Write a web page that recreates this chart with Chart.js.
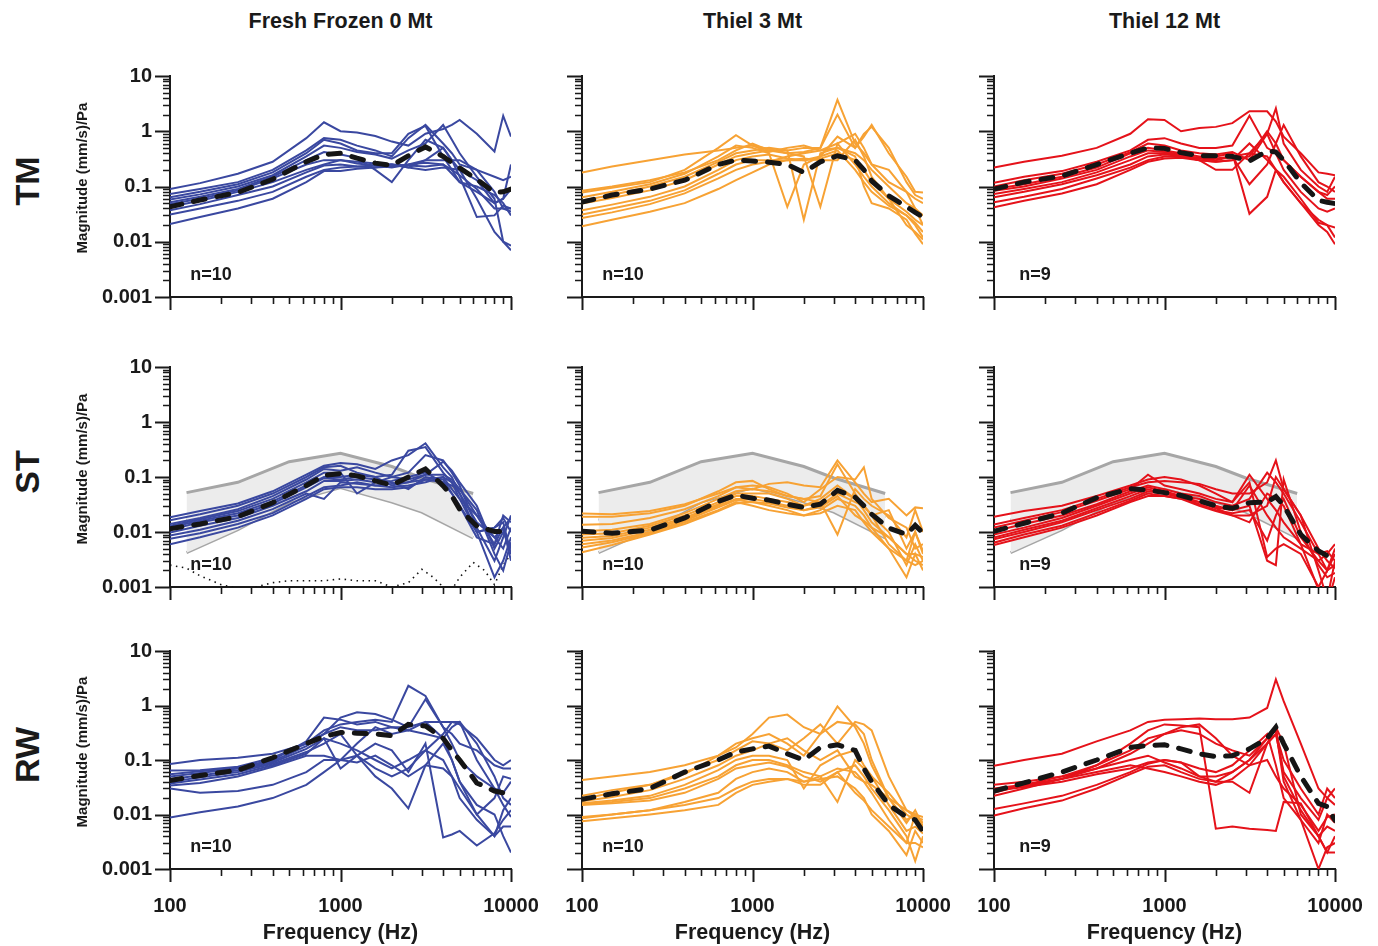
<!DOCTYPE html>
<html>
<head>
<meta charset="utf-8">
<script src="https://cdn.jsdelivr.net/npm/chart.js@4.4.0/dist/chart.umd.min.js"></script>
<style>
  html, body { margin: 0; padding: 0; background: #fff; }
  body { width: 1378px; height: 946px; position: relative; overflow: hidden;
         font-family: "Liberation Sans", Arial, sans-serif; font-weight: bold; color: #1a1a1a; }
  canvas { position: absolute; }
  .lbl { position: absolute; white-space: nowrap; line-height: 1; transform: translate(-50%, -50%); }
  .rot { transform: translate(-50%, -50%) rotate(-90deg); }
</style>
</head>
<body>
<script>
// frequency grid shared by every specimen trace (Hz)
const FREQ = [100, 150, 250, 400, 630, 800, 1000, 1250, 1600, 2000, 2500, 3150, 4000, 4500, 5000, 6300, 8000, 9000, 10000];

// ASTM normal range (ST row)
const ASTM_FREQ  = [125, 250, 500, 1000, 2000, 3000, 6000];
const ASTM_UPPER = [0.052, 0.08, 0.19, 0.27, 0.155, 0.096, 0.05];
const ASTM_MID   = [0.0164, 0.032, 0.08, 0.135, 0.069, 0.043, 0.018];
const ASTM_LOWER = [0.0042, 0.011, 0.035, 0.064, 0.035, 0.023, 0.0078];

// noise floor (ST, fresh frozen)
const NOISE_FREQ  = [100, 125, 150, 200, 250, 300, 400, 500, 630, 800, 1000, 1250, 1600, 2000, 2500, 3000, 3500, 4000, 4500, 5000, 6000, 7000, 8000, 9000, 10000];
const NOISE_FLOOR = [0.0025, 0.0022, 0.0016, 0.0011, 0.00095, 0.00095, 0.0012, 0.0013, 0.0013, 0.0013, 0.0014, 0.0013, 0.0013, 0.001, 0.0012, 0.0021, 0.0015, 0.001, 0.0009, 0.0015, 0.0028, 0.002, 0.0011, 0.0025, 0.004];

// ---- TM ----
const TM_FF_MEAN = [0.043, 0.057, 0.078, 0.135, 0.28, 0.38, 0.40, 0.325, 0.265, 0.24, 0.36, 0.52, 0.35, 0.27, 0.216, 0.135, 0.078, 0.08, 0.09];
const TM_FF = [
  [0.09, 0.115, 0.17, 0.28, 0.75, 1.45, 1.0, 0.95, 0.82, 0.65, 0.55, 0.9, 1.1, 1.3, 1.6, 0.9, 0.43, 1.9, 0.8],
  [0.073, 0.09, 0.12, 0.2, 0.45, 0.75, 0.7, 0.55, 0.45, 0.35, 0.75, 1.3, 0.6, 0.4, 0.25, 0.2, 0.08, 0.04, 0.04],
  [0.064, 0.08, 0.11, 0.18, 0.4, 0.7, 0.6, 0.45, 0.4, 0.4, 0.9, 1.25, 0.35, 0.2, 0.12, 0.1, 0.07, 0.05, 0.03],
  [0.058, 0.072, 0.1, 0.16, 0.35, 0.55, 0.5, 0.42, 0.38, 0.32, 0.45, 0.6, 1.3, 0.7, 0.4, 0.15, 0.06, 0.01, 0.007],
  [0.052, 0.065, 0.09, 0.15, 0.3, 0.42, 0.38, 0.33, 0.2, 0.12, 0.3, 0.7, 0.5, 0.3, 0.2, 0.06, 0.015, 0.01, 0.0085],
  [0.048, 0.06, 0.085, 0.14, 0.25, 0.3, 0.3, 0.28, 0.26, 0.25, 0.22, 0.3, 0.5, 0.3, 0.15, 0.028, 0.03, 0.045, 0.04],
  [0.043, 0.055, 0.08, 0.12, 0.2, 0.25, 0.3, 0.26, 0.24, 0.22, 0.25, 0.3, 0.3, 0.3, 0.3, 0.2, 0.15, 0.13, 0.15],
  [0.037, 0.048, 0.07, 0.1, 0.18, 0.24, 0.25, 0.23, 0.22, 0.23, 0.25, 0.27, 0.25, 0.17, 0.12, 0.08, 0.05, 0.06, 0.09],
  [0.031, 0.04, 0.055, 0.08, 0.15, 0.2, 0.22, 0.23, 0.24, 0.25, 0.22, 0.2, 0.22, 0.21, 0.2, 0.13, 0.05, 0.06, 0.25],
  [0.021, 0.028, 0.04, 0.06, 0.12, 0.19, 0.19, 0.21, 0.22, 0.25, 0.24, 0.23, 0.25, 0.2, 0.16, 0.09, 0.04, 0.04, 0.035]
];
const TM_T3_MEAN = [0.052, 0.07, 0.09, 0.13, 0.25, 0.3, 0.29, 0.275, 0.25, 0.18, 0.28, 0.36, 0.30, 0.2, 0.126, 0.068, 0.043, 0.034, 0.028];
const TM_T3 = [
  [0.18, 0.23, 0.3, 0.38, 0.45, 0.5, 0.55, 0.48, 0.4, 0.42, 0.5, 3.7, 0.6, 0.4, 0.25, 0.12, 0.08, 0.06, 0.05],
  [0.084, 0.1, 0.13, 0.18, 0.3, 0.45, 0.6, 0.45, 0.45, 0.5, 0.5, 2.0, 0.5, 0.8, 1.3, 0.4, 0.15, 0.08, 0.078],
  [0.078, 0.095, 0.12, 0.2, 0.5, 0.85, 0.55, 0.42, 0.5, 0.55, 0.45, 0.6, 0.9, 0.5, 0.25, 0.2, 0.08, 0.04, 0.03],
  [0.064, 0.08, 0.11, 0.17, 0.35, 0.55, 0.5, 0.4, 0.043, 0.25, 0.35, 0.8, 0.5, 0.9, 1.2, 0.5, 0.12, 0.07, 0.06],
  [0.056, 0.07, 0.1, 0.15, 0.28, 0.4, 0.45, 0.5, 0.45, 0.025, 0.4, 0.5, 0.4, 0.3, 0.2, 0.1, 0.05, 0.04, 0.02],
  [0.049, 0.062, 0.085, 0.13, 0.25, 0.35, 0.4, 0.45, 0.4, 0.35, 0.043, 0.6, 0.25, 0.15, 0.1, 0.05, 0.03, 0.02, 0.012],
  [0.037, 0.047, 0.065, 0.1, 0.2, 0.3, 0.35, 0.38, 0.32, 0.3, 0.35, 0.45, 0.2, 0.12, 0.08, 0.045, 0.03, 0.022, 0.015],
  [0.031, 0.04, 0.055, 0.085, 0.17, 0.25, 0.3, 0.3, 0.3, 0.32, 0.3, 0.3, 0.7, 0.35, 0.15, 0.06, 0.035, 0.025, 0.02],
  [0.027, 0.034, 0.048, 0.075, 0.14, 0.2, 0.25, 0.28, 0.35, 0.4, 0.45, 0.5, 0.35, 0.1, 0.05, 0.04, 0.025, 0.014, 0.009],
  [0.019, 0.025, 0.035, 0.05, 0.09, 0.13, 0.18, 0.25, 0.3, 0.3, 0.32, 0.4, 0.3, 0.2, 0.12, 0.06, 0.02, 0.015, 0.011]
];
const TM_T12_MEAN = [0.09, 0.12, 0.155, 0.25, 0.4, 0.5, 0.49, 0.41, 0.36, 0.36, 0.35, 0.29, 0.44, 0.42, 0.3, 0.117, 0.056, 0.052, 0.049];
const TM_T12 = [
  [0.22, 0.28, 0.36, 0.5, 0.9, 1.65, 1.6, 1.0, 1.15, 1.2, 1.4, 2.3, 2.3, 1.5, 0.8, 0.4, 0.18, 0.17, 0.16],
  [0.117, 0.15, 0.19, 0.28, 0.45, 0.7, 0.75, 0.6, 0.5, 0.5, 0.55, 1.9, 0.5, 0.4, 0.3, 0.15, 0.08, 0.07, 0.1],
  [0.1, 0.13, 0.17, 0.25, 0.42, 0.6, 0.55, 0.45, 0.4, 0.38, 0.42, 0.3, 0.9, 2.6, 0.6, 0.2, 0.1, 0.08, 0.15],
  [0.09, 0.11, 0.15, 0.22, 0.4, 0.5, 0.45, 0.4, 0.35, 0.35, 0.4, 0.032, 0.065, 0.2, 0.15, 0.06, 0.022, 0.02, 0.012],
  [0.084, 0.1, 0.14, 0.2, 0.35, 0.45, 0.42, 0.38, 0.32, 0.3, 0.35, 0.11, 0.25, 0.6, 1.3, 0.35, 0.12, 0.1, 0.08],
  [0.073, 0.09, 0.12, 0.18, 0.3, 0.4, 0.4, 0.36, 0.3, 0.28, 0.3, 0.6, 0.3, 0.2, 0.12, 0.05, 0.025, 0.02, 0.018],
  [0.064, 0.08, 0.11, 0.16, 0.25, 0.35, 0.38, 0.36, 0.3, 0.2, 0.2, 0.4, 0.9, 0.4, 0.2, 0.08, 0.04, 0.035, 0.04],
  [0.052, 0.065, 0.09, 0.14, 0.22, 0.3, 0.35, 0.35, 0.33, 0.32, 0.35, 0.4, 0.35, 0.2, 0.12, 0.05, 0.02, 0.015, 0.009],
  [0.042, 0.055, 0.075, 0.11, 0.2, 0.28, 0.32, 0.33, 0.3, 0.28, 0.3, 0.35, 1.0, 0.6, 0.3, 0.15, 0.08, 0.06, 0.06]
];

// ---- ST ----
const ST_FF_MEAN = [0.0115, 0.014, 0.019, 0.034, 0.07, 0.107, 0.115, 0.105, 0.085, 0.071, 0.1, 0.14, 0.069, 0.045, 0.026, 0.0128, 0.0102, 0.0102, 0.0105];
const ST_FF = [
  [0.0185, 0.024, 0.033, 0.055, 0.11, 0.16, 0.18, 0.17, 0.14, 0.2, 0.25, 0.41, 0.15, 0.1, 0.05, 0.015, 0.008, 0.012, 0.018],
  [0.0163, 0.021, 0.03, 0.05, 0.1, 0.15, 0.16, 0.12, 0.1, 0.11, 0.3, 0.35, 0.12, 0.08, 0.04, 0.02, 0.006, 0.02, 0.015],
  [0.014, 0.018, 0.026, 0.045, 0.09, 0.14, 0.13, 0.15, 0.12, 0.1, 0.12, 0.25, 0.2, 0.12, 0.07, 0.012, 0.003, 0.008, 0.02],
  [0.013, 0.017, 0.024, 0.04, 0.08, 0.12, 0.12, 0.05, 0.08, 0.1, 0.09, 0.11, 0.19, 0.13, 0.08, 0.03, 0.005, 0.01, 0.005],
  [0.0122, 0.016, 0.022, 0.036, 0.07, 0.1, 0.1, 0.11, 0.1, 0.07, 0.08, 0.09, 0.1, 0.06, 0.04, 0.01, 0.0015, 0.003, 0.008],
  [0.011, 0.015, 0.02, 0.033, 0.065, 0.095, 0.09, 0.1, 0.09, 0.08, 0.06, 0.1, 0.09, 0.05, 0.03, 0.008, 0.006, 0.012, 0.003],
  [0.0098, 0.013, 0.018, 0.03, 0.055, 0.085, 0.085, 0.09, 0.08, 0.085, 0.1, 0.12, 0.08, 0.07, 0.06, 0.02, 0.008, 0.005, 0.012],
  [0.0086, 0.011, 0.016, 0.026, 0.05, 0.04, 0.08, 0.075, 0.07, 0.075, 0.08, 0.11, 0.11, 0.09, 0.06, 0.025, 0.004, 0.002, 0.0065],
  [0.0075, 0.0095, 0.014, 0.022, 0.045, 0.065, 0.07, 0.08, 0.07, 0.065, 0.07, 0.08, 0.1, 0.08, 0.05, 0.01, 0.012, 0.018, 0.01],
  [0.006, 0.008, 0.012, 0.02, 0.04, 0.06, 0.065, 0.065, 0.06, 0.06, 0.065, 0.09, 0.08, 0.05, 0.03, 0.01, 0.012, 0.015, 0.004]
];
const ST_T3_MEAN = [0.0103, 0.0095, 0.0108, 0.018, 0.036, 0.047, 0.041, 0.038, 0.032, 0.028, 0.032, 0.057, 0.043, 0.03, 0.021, 0.0118, 0.009, 0.0132, 0.0096];
const ST_T3 = [
  [0.0216, 0.021, 0.024, 0.032, 0.05, 0.065, 0.06, 0.075, 0.08, 0.07, 0.065, 0.2, 0.08, 0.05, 0.035, 0.04, 0.02, 0.028, 0.027],
  [0.019, 0.019, 0.022, 0.03, 0.055, 0.08, 0.085, 0.06, 0.045, 0.04, 0.045, 0.17, 0.05, 0.03, 0.02, 0.025, 0.005, 0.01, 0.004],
  [0.0136, 0.014, 0.018, 0.026, 0.045, 0.065, 0.07, 0.065, 0.05, 0.035, 0.06, 0.1, 0.09, 0.15, 0.04, 0.018, 0.012, 0.005, 0.006],
  [0.0103, 0.011, 0.014, 0.022, 0.04, 0.055, 0.06, 0.055, 0.045, 0.04, 0.035, 0.009, 0.06, 0.04, 0.03, 0.02, 0.008, 0.025, 0.01],
  [0.009, 0.0095, 0.013, 0.02, 0.035, 0.05, 0.05, 0.05, 0.04, 0.03, 0.04, 0.07, 0.04, 0.03, 0.02, 0.01, 0.0025, 0.006, 0.003],
  [0.0079, 0.0085, 0.012, 0.018, 0.032, 0.045, 0.045, 0.04, 0.035, 0.03, 0.035, 0.06, 0.04, 0.025, 0.015, 0.008, 0.004, 0.004, 0.0035],
  [0.0069, 0.0078, 0.011, 0.017, 0.03, 0.04, 0.04, 0.035, 0.03, 0.025, 0.03, 0.05, 0.035, 0.03, 0.02, 0.006, 0.003, 0.01, 0.0045],
  [0.006, 0.007, 0.01, 0.016, 0.028, 0.038, 0.035, 0.03, 0.025, 0.02, 0.025, 0.04, 0.03, 0.02, 0.012, 0.005, 0.0015, 0.004, 0.002],
  [0.0052, 0.0065, 0.0095, 0.015, 0.025, 0.035, 0.03, 0.025, 0.022, 0.02, 0.022, 0.03, 0.025, 0.015, 0.01, 0.005, 0.003, 0.0025, 0.003],
  [0.0043, 0.0058, 0.009, 0.014, 0.024, 0.033, 0.035, 0.033, 0.028, 0.025, 0.028, 0.045, 0.02, 0.016, 0.012, 0.008, 0.004, 0.003, 0.0025]
];
const ST_T12_MEAN = [0.0103, 0.0144, 0.022, 0.042, 0.061, 0.058, 0.052, 0.046, 0.037, 0.03, 0.027, 0.034, 0.035, 0.044, 0.03, 0.009, 0.0045, 0.0037, 0.0032];
const ST_T12 = [
  [0.019, 0.024, 0.03, 0.045, 0.07, 0.09, 0.1, 0.09, 0.07, 0.05, 0.035, 0.11, 0.04, 0.025, 0.015, 0.006, 0.004, 0.0045, 0.003],
  [0.0137, 0.018, 0.025, 0.04, 0.065, 0.08, 0.085, 0.08, 0.075, 0.06, 0.05, 0.05, 0.08, 0.2, 0.06, 0.02, 0.002, 0.0006, 0.003],
  [0.012, 0.016, 0.023, 0.037, 0.06, 0.11, 0.07, 0.06, 0.05, 0.04, 0.035, 0.08, 0.0035, 0.005, 0.006, 0.004, 0.001, 0.002, 0.0025],
  [0.0103, 0.014, 0.02, 0.032, 0.055, 0.07, 0.06, 0.05, 0.045, 0.035, 0.03, 0.04, 0.12, 0.08, 0.05, 0.015, 0.004, 0.002, 0.005],
  [0.009, 0.012, 0.018, 0.03, 0.05, 0.065, 0.055, 0.045, 0.04, 0.03, 0.025, 0.03, 0.003, 0.0025, 0.09, 0.01, 0.0025, 0.0015, 0.0018],
  [0.0079, 0.011, 0.016, 0.027, 0.045, 0.06, 0.05, 0.045, 0.035, 0.027, 0.02, 0.015, 0.05, 0.04, 0.03, 0.006, 0.0009, 0.0005, 0.0015],
  [0.0074, 0.01, 0.015, 0.025, 0.04, 0.055, 0.05, 0.042, 0.032, 0.025, 0.022, 0.025, 0.007, 0.02, 0.04, 0.008, 0.003, 0.004, 0.006],
  [0.0064, 0.009, 0.013, 0.022, 0.037, 0.05, 0.045, 0.04, 0.03, 0.024, 0.02, 0.02, 0.03, 0.1, 0.06, 0.02, 0.005, 0.003, 0.0022],
  [0.0058, 0.008, 0.012, 0.02, 0.035, 0.045, 0.045, 0.04, 0.035, 0.028, 0.025, 0.07, 0.02, 0.012, 0.008, 0.005, 0.003, 0.002, 0.004]
];

// ---- RW ----
const RW_FF_MEAN = [0.042, 0.052, 0.065, 0.11, 0.2, 0.27, 0.32, 0.31, 0.3, 0.28, 0.45, 0.42, 0.25, 0.15, 0.1, 0.038, 0.027, 0.025, 0.025];
const RW_FF = [
  [0.084, 0.1, 0.11, 0.13, 0.2, 0.3, 0.6, 0.75, 0.7, 0.55, 0.4, 0.5, 0.5, 0.5, 0.45, 0.25, 0.1, 0.08, 0.1],
  [0.064, 0.065, 0.075, 0.11, 0.2, 0.35, 0.45, 0.5, 0.55, 0.5, 2.3, 1.5, 0.4, 0.3, 0.2, 0.15, 0.08, 0.07, 0.07],
  [0.055, 0.062, 0.072, 0.1, 0.22, 0.6, 0.55, 0.45, 0.5, 0.4, 0.4, 1.3, 0.4, 0.2, 0.1, 0.05, 0.03, 0.025, 0.04],
  [0.05, 0.058, 0.07, 0.095, 0.18, 0.3, 0.4, 0.35, 0.35, 0.4, 0.35, 0.5, 0.25, 0.4, 0.5, 0.2, 0.05, 0.02, 0.015],
  [0.045, 0.052, 0.065, 0.09, 0.16, 0.25, 0.07, 0.12, 0.2, 0.15, 0.06, 0.2, 0.0038, 0.0043, 0.005, 0.0027, 0.0045, 0.008, 0.012],
  [0.04, 0.048, 0.06, 0.085, 0.14, 0.2, 0.3, 0.12, 0.05, 0.03, 0.013, 0.08, 0.2, 0.1, 0.04, 0.01, 0.004, 0.012, 0.02],
  [0.037, 0.044, 0.055, 0.08, 0.13, 0.25, 0.2, 0.15, 0.1, 0.07, 0.1, 0.15, 0.1, 0.05, 0.02, 0.008, 0.004, 0.006, 0.006],
  [0.034, 0.038, 0.05, 0.075, 0.12, 0.12, 0.1, 0.12, 0.07, 0.05, 0.07, 0.15, 0.3, 0.5, 0.5, 0.1, 0.03, 0.015, 0.009],
  [0.03, 0.025, 0.027, 0.035, 0.06, 0.1, 0.1, 0.09, 0.12, 0.08, 0.05, 0.08, 0.07, 0.05, 0.03, 0.01, 0.02, 0.05, 0.045],
  [0.0088, 0.011, 0.014, 0.02, 0.035, 0.06, 0.1, 0.2, 0.4, 0.3, 0.35, 0.3, 0.25, 0.1, 0.04, 0.015, 0.01, 0.004, 0.002]
];
const RW_T3_MEAN = [0.019, 0.024, 0.03, 0.06, 0.1, 0.14, 0.16, 0.18, 0.13, 0.1, 0.17, 0.19, 0.15, 0.07, 0.04, 0.015, 0.009, 0.008, 0.0049];
const RW_T3 = [
  [0.043, 0.05, 0.06, 0.08, 0.12, 0.17, 0.3, 0.6, 0.68, 0.4, 0.3, 0.96, 0.4, 0.2, 0.08, 0.02, 0.012, 0.009, 0.008],
  [0.022, 0.028, 0.035, 0.055, 0.12, 0.2, 0.25, 0.3, 0.2, 0.12, 0.3, 0.5, 0.45, 0.3, 0.1, 0.02, 0.008, 0.01, 0.009],
  [0.019, 0.025, 0.035, 0.06, 0.1, 0.15, 0.22, 0.2, 0.15, 0.25, 0.45, 0.2, 0.5, 0.45, 0.35, 0.05, 0.012, 0.01, 0.007],
  [0.0175, 0.021, 0.028, 0.045, 0.08, 0.12, 0.15, 0.2, 0.25, 0.15, 0.1, 0.15, 0.05, 0.04, 0.035, 0.02, 0.007, 0.012, 0.006],
  [0.016, 0.018, 0.022, 0.035, 0.065, 0.1, 0.12, 0.12, 0.1, 0.03, 0.08, 0.12, 0.15, 0.08, 0.05, 0.025, 0.01, 0.008, 0.0055],
  [0.0155, 0.017, 0.02, 0.03, 0.05, 0.08, 0.1, 0.1, 0.08, 0.06, 0.05, 0.017, 0.1, 0.07, 0.05, 0.015, 0.005, 0.006, 0.0045],
  [0.015, 0.016, 0.018, 0.025, 0.045, 0.07, 0.08, 0.09, 0.075, 0.05, 0.04, 0.06, 0.08, 0.05, 0.03, 0.012, 0.004, 0.0014, 0.004],
  [0.009, 0.01, 0.012, 0.017, 0.025, 0.045, 0.06, 0.07, 0.06, 0.04, 0.05, 0.07, 0.06, 0.04, 0.025, 0.008, 0.003, 0.003, 0.0025],
  [0.0085, 0.01, 0.012, 0.015, 0.02, 0.03, 0.04, 0.045, 0.045, 0.035, 0.035, 0.06, 0.025, 0.018, 0.012, 0.006, 0.003, 0.01, 0.006],
  [0.0075, 0.0085, 0.01, 0.012, 0.015, 0.025, 0.035, 0.04, 0.045, 0.04, 0.045, 0.05, 0.03, 0.02, 0.01, 0.005, 0.0018, 0.005, 0.003]
];
const RW_T12_MEAN = [0.027, 0.038, 0.06, 0.1, 0.17, 0.185, 0.19, 0.16, 0.13, 0.115, 0.12, 0.16, 0.25, 0.4, 0.2, 0.05, 0.016, 0.014, 0.0078];
const RW_T12 = [
  [0.078, 0.1, 0.13, 0.22, 0.35, 0.5, 0.55, 0.56, 0.58, 0.56, 0.56, 0.6, 0.9, 3.0, 1.2, 0.2, 0.03, 0.02, 0.015],
  [0.025, 0.035, 0.05, 0.08, 0.15, 0.25, 0.3, 0.35, 0.3, 0.2, 0.15, 0.12, 0.25, 0.35, 0.04, 0.008, 0.003, 0.01, 0.007],
  [0.028, 0.033, 0.045, 0.07, 0.13, 0.2, 0.3, 0.4, 0.45, 0.25, 0.12, 0.08, 0.2, 0.4, 0.2, 0.01, 0.004, 0.002, 0.004],
  [0.022, 0.03, 0.045, 0.08, 0.2, 0.35, 0.45, 0.43, 0.4, 0.0055, 0.006, 0.0055, 0.0052, 0.005, 0.017, 0.016, 0.004, 0.002, 0.002],
  [0.0126, 0.016, 0.022, 0.035, 0.06, 0.085, 0.1, 0.09, 0.07, 0.06, 0.08, 0.15, 0.3, 0.08, 0.02, 0.008, 0.001, 0.0025, 0.003],
  [0.0096, 0.013, 0.018, 0.03, 0.055, 0.075, 0.08, 0.06, 0.045, 0.04, 0.06, 0.1, 0.25, 0.4, 0.05, 0.012, 0.004, 0.006, 0.005],
  [0.035, 0.04, 0.05, 0.07, 0.1, 0.12, 0.09, 0.07, 0.05, 0.05, 0.06, 0.1, 0.2, 0.3, 0.1, 0.03, 0.01, 0.03, 0.02],
  [0.03, 0.035, 0.045, 0.06, 0.08, 0.07, 0.06, 0.05, 0.04, 0.035, 0.045, 0.08, 0.1, 0.05, 0.03, 0.015, 0.005, 0.009, 0.01],
  [0.027, 0.032, 0.04, 0.055, 0.07, 0.09, 0.1, 0.09, 0.05, 0.04, 0.04, 0.025, 0.2, 0.3, 0.06, 0.02, 0.008, 0.02, 0.03]
];

const COL_TITLES = ['Fresh Frozen 0 Mt', 'Thiel 3 Mt', 'Thiel 12 Mt'];
const ROW_TITLES = ['TM', 'ST', 'RW'];
const COL_COLORS = ['#3a48a0', '#f7a234', '#e5121a'];
const N_LABELS = ['n=10', 'n=10', 'n=9'];
const X_TICKS = [100, 1000, 10000];
const Y_TICKS = [0.001, 0.01, 0.1, 1, 10];

// layout (page pixels of each plot area)
const COL_X = [170, 582, 994];
const PLOT_W = 341;
const ROW_Y = [69, 360, 644];
const ROW_H = [228, 227, 225];
const Y_AXIS_W = 100, X_AXIS_H = 50, PAD = 8, PAD_R = 40;

const FONT = '"Liberation Sans", Arial, sans-serif';

function label(text, x, y, size, rotate) {
  const d = document.createElement('div');
  d.className = 'lbl' + (rotate ? ' rot' : '');
  d.textContent = text;
  d.style.left = x + 'px';
  d.style.top = y + 'px';
  d.style.fontSize = size + 'px';
  document.body.appendChild(d);
}

function xy(freqs, vals) {
  return freqs.map(function(f, i) { return { x: f, y: vals[i] }; });
}

// tick marks (major long, minor short) drawn from the library's scales
const logTicks = {
  id: 'logTicks',
  afterDraw: function(chart) {
    const ctx = chart.ctx, a = chart.chartArea;
    const xs = chart.scales.x, ys = chart.scales.y;
    ctx.save();
    ctx.strokeStyle = '#1a1a1a';
    ctx.lineCap = 'butt';
    [true, false].forEach(function(major) {
      ctx.beginPath();
      ctx.lineWidth = major ? 2 : 1.6;
      for (let e = 2; e <= 4; e++) {
        for (let m = 1; m <= 9; m++) {
          if ((m === 1) !== major) continue;
          const v = m * Math.pow(10, e);
          if (v > 10000.5) break;
          const px = Math.round(xs.getPixelForValue(v)) + 0.5;
          ctx.moveTo(px, a.bottom);
          ctx.lineTo(px, a.bottom + (major ? 13 : 7));
        }
      }
      for (let e = -3; e <= 1; e++) {
        for (let m = 1; m <= 9; m++) {
          if ((m === 1) !== major) continue;
          const v = m * Math.pow(10, e);
          if (v > 10.0001) break;
          const py = Math.round(ys.getPixelForValue(v)) + 0.5;
          ctx.moveTo(a.left - (major ? 15 : 7), py);
          ctx.lineTo(a.left, py);
        }
      }
      ctx.stroke();
    });
    ctx.restore();
  }
};

const PANELS = [
  [TM_FF, TM_FF_MEAN], [TM_T3, TM_T3_MEAN], [TM_T12, TM_T12_MEAN],
  [ST_FF, ST_FF_MEAN], [ST_T3, ST_T3_MEAN], [ST_T12, ST_T12_MEAN],
  [RW_FF, RW_FF_MEAN], [RW_T3, RW_T3_MEAN], [RW_T12, RW_T12_MEAN]
];

PANELS.forEach(function(p, idx) {
  const row = Math.floor(idx / 3), col = idx % 3;
  const lines = p[0], mean = p[1];
  const color = COL_COLORS[col];

  const canvas = document.createElement('canvas');
  const w = Y_AXIS_W + PLOT_W + PAD_R, h = PAD + ROW_H[row] + X_AXIS_H;
  canvas.width = w; canvas.height = h;
  canvas.style.width = w + 'px'; canvas.style.height = h + 'px';
  canvas.style.left = (COL_X[col] - Y_AXIS_W) + 'px';
  canvas.style.top = (ROW_Y[row] - PAD) + 'px';
  document.body.appendChild(canvas);

  const datasets = [];
  datasets.push({
    data: xy(FREQ, mean), borderColor: '#151515', borderWidth: 5,
    borderDash: [12, 12], borderCapStyle: 'round', order: 0
  });
  lines.forEach(function(l) {
    datasets.push({ data: xy(FREQ, l), borderColor: color, borderWidth: 2, order: 1 });
  });
  if (row === 1) {
    datasets.push({ data: xy(ASTM_FREQ, ASTM_UPPER), borderColor: '#a6a6a6', borderWidth: 3,
      fill: '+2', backgroundColor: '#ececec', order: 5 });
    datasets.push({ data: xy(ASTM_FREQ, ASTM_MID), borderColor: '#a6a6a6', borderWidth: 3, order: 5 });
    datasets.push({ data: xy(ASTM_FREQ, ASTM_LOWER), borderColor: '#a6a6a6', borderWidth: 3, order: 5 });
    if (col === 0) {
      datasets.push({ data: xy(NOISE_FREQ, NOISE_FLOOR), borderColor: '#111', borderWidth: 1.6,
        borderDash: [1.5, 4.5], order: 2 });
    }
  }

  new Chart(canvas.getContext('2d'), {
    type: 'line',
    data: { datasets: datasets },
    options: {
      responsive: false,
      animation: false,
      devicePixelRatio: 1,
      layout: { padding: { top: PAD, right: PAD_R, left: 0, bottom: 0 } },
      elements: { point: { radius: 0 }, line: { tension: 0, fill: false } },
      plugins: { legend: { display: false }, tooltip: { enabled: false } },
      scales: {
        x: {
          type: 'logarithmic', min: 100, max: 10000,
          border: { display: true, color: '#1a1a1a', width: 2 },
          grid: { display: false, drawTicks: true, tickLength: 13 },
          afterFit: function(s) { s.height = X_AXIS_H; },
          ticks: {
            autoSkip: false, maxRotation: 0, padding: 12, color: '#1a1a1a',
            font: { family: FONT, size: 20, weight: 'bold' },
            callback: function(v) {
              return (row === 2 && X_TICKS.indexOf(v) >= 0) ? String(v) : '';
            }
          }
        },
        y: {
          type: 'logarithmic', min: 0.001, max: 10,
          border: { display: true, color: '#1a1a1a', width: 2 },
          grid: { display: false, drawTicks: true, tickLength: 15 },
          afterFit: function(s) { s.width = Y_AXIS_W; },
          ticks: {
            autoSkip: false, padding: 3, color: '#1a1a1a',
            font: { family: FONT, size: 20, weight: 'bold' },
            callback: function(v) {
              if (col !== 0) return '';
              for (let i = 0; i < Y_TICKS.length; i++) {
                if (Math.abs(v - Y_TICKS[i]) < Y_TICKS[i] * 1e-6) return String(Y_TICKS[i]);
              }
              return '';
            }
          }
        }
      }
    },
    plugins: [logTicks]
  });

  label(N_LABELS[col], COL_X[col] + 19 + 22, ROW_Y[row] + ROW_H[row] - 23, 18);
});

// column titles, row titles, axis titles
COL_TITLES.forEach(function(t, c) { label(t, COL_X[c] + PLOT_W / 2, 22, 21.5); });
ROW_TITLES.forEach(function(t, r) {
  label(t, 27, ROW_Y[r] + ROW_H[r] / 2 - 2, 34, true);
  label('Magnitude (mm/s)/Pa', 81, ROW_Y[r] + ROW_H[r] / 2 - 5, 15, true);
});
COL_X.forEach(function(x) { label('Frequency (Hz)', x + PLOT_W / 2, 933, 21.5); });
</script>
</body>
</html>
